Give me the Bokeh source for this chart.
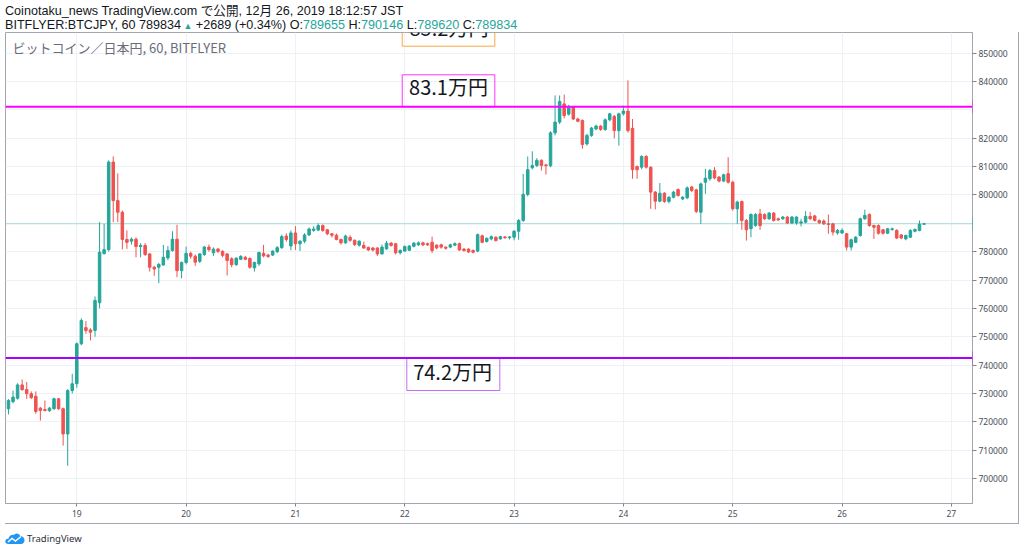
from bokeh.plotting import figure
from bokeh.layouts import column
from bokeh.models import (ColumnDataSource, Range1d, FixedTicker, BasicTickFormatter,
                          Span, Label, BoxAnnotation, Div)
from bokeh.core.properties import value
from bokeh.embed import file_html
from bokeh.resources import INLINE

# ---------------- data: BTC/JPY (bitFlyer) 1h candles, in thousand yen ----------------
first_hour = 9          # hours after 2019-12-18 00:00, i.e. first candle = 18th 09:00
opens_k = [
    724.6, 727.1, 728.3, 733.0, 731.4, 729.9, 729.0, 724.8, 724.3, 723.9,
    724.6, 728.1, 724.6, 715.7, 731.0, 733.4, 747.5, 753.2, 752.4, 752.2,
    762.0, 779.3, 780.7, 811.6, 798.0, 793.9, 784.3, 783.7, 784.4, 781.8,
    782.2, 779.2, 774.5, 774.5, 775.3, 777.8, 780.4, 784.4, 773.3, 776.2,
    779.4, 778.4, 776.6, 779.0, 781.6, 779.6, 780.9, 780.1, 779.2, 777.5,
    775.4, 777.3, 778.0, 777.6, 774.3, 775.7, 779.4, 778.8, 778.8, 780.0,
    781.4, 785.5, 782.0, 786.6, 782.8, 783.7, 785.9, 787.5, 787.6, 789.2,
    787.7, 786.3, 785.8, 784.3, 783.1, 785.0, 784.0, 782.3, 782.2, 781.5,
    781.3, 781.3, 779.2, 781.0, 783.0, 782.8, 779.6, 780.2, 780.5, 781.9,
    782.4, 783.1, 782.8, 783.3, 782.3, 782.4, 781.6, 781.6, 782.3, 782.8,
    780.9, 780.9, 780.4, 780.2, 785.6, 783.6, 784.5, 785.1, 784.5, 785.2,
    784.9, 785.1, 787.2, 791.0, 800.2, 809.6, 810.4, 812.2, 810.6, 810.3,
    821.9, 825.7, 832.1, 828.5, 831.0, 826.8, 826.3, 818.0, 821.0, 823.3,
    824.3, 823.1, 826.5, 827.7, 822.7, 828.6, 829.6, 823.5, 810.0, 809.8,
    813.6, 809.8, 801.0, 797.8, 800.6, 797.7, 799.2, 801.9, 798.6, 799.0,
    802.8, 801.8, 793.9, 804.5, 805.7, 808.6, 806.3, 804.9, 807.5, 804.5,
    795.1, 797.7, 791.0, 788.1, 789.2, 793.3, 793.1, 791.6, 793.6, 791.6,
    791.6, 792.2, 790.1, 790.1, 790.1, 790.4, 792.4, 792.6, 791.0, 790.8,
    789.8, 789.8, 786.6, 786.6, 786.3, 781.6, 783.3, 785.7, 791.6, 793.1,
    789.2, 789.2, 787.7, 786.5, 787.8, 787.5, 785.9, 784.5, 785.1, 787.2,
    787.5, 789.655,
]
highs_k = [
    728.0, 731.0, 733.6, 734.9, 734.0, 730.7, 730.7, 725.2, 727.5, 725.2,
    728.5, 728.4, 725.0, 731.5, 736.9, 748.0, 756.5, 755.5, 753.0, 764.2,
    790.4, 789.8, 812.2, 813.6, 807.6, 794.5, 787.5, 785.0, 785.0, 783.0,
    783.0, 779.5, 775.0, 776.0, 782.4, 782.0, 787.2, 789.5, 776.5, 781.8,
    780.0, 779.0, 779.5, 782.0, 782.5, 781.5, 781.3, 780.5, 779.5, 778.0,
    778.0, 778.8, 778.5, 778.0, 776.5, 780.0, 782.4, 779.2, 780.5, 782.0,
    786.0, 786.5, 787.5, 789.0, 784.0, 786.5, 788.5, 789.0, 790.0, 789.6,
    788.0, 786.6, 786.4, 784.6, 786.0, 785.8, 784.3, 784.0, 783.5, 781.8,
    781.6, 781.6, 782.5, 783.8, 783.4, 783.0, 780.8, 782.2, 782.3, 783.4,
    783.6, 783.5, 783.2, 785.3, 782.6, 782.8, 781.8, 782.8, 783.3, 783.2,
    781.2, 781.2, 780.8, 786.4, 786.0, 785.0, 785.7, 785.4, 785.6, 785.5,
    785.5, 787.6, 791.5, 807.4, 813.6, 815.4, 813.0, 812.6, 811.0, 822.5,
    835.1, 835.1, 835.4, 831.8, 831.4, 827.2, 826.6, 821.6, 824.0, 824.8,
    824.6, 827.0, 829.0, 828.2, 829.0, 831.5, 840.4, 826.8, 810.4, 814.0,
    814.0, 810.0, 801.4, 804.2, 801.0, 799.6, 801.4, 802.3, 799.6, 803.0,
    803.2, 802.2, 804.4, 809.2, 809.2, 809.8, 806.7, 807.5, 813.3, 805.0,
    798.0, 798.0, 791.5, 793.5, 793.6, 795.1, 793.5, 794.0, 794.0, 792.0,
    792.6, 792.6, 792.6, 792.5, 791.6, 794.3, 794.0, 793.0, 791.4, 791.4,
    793.1, 790.2, 788.0, 788.2, 786.6, 784.6, 785.5, 792.0, 794.8, 793.5,
    789.5, 789.6, 788.0, 788.4, 788.5, 787.9, 786.2, 786.0, 787.9, 788.2,
    791.0, 790.146,
]
lows_k = [
    722.6, 726.5, 727.8, 731.0, 728.1, 728.0, 722.8, 720.4, 723.6, 723.5,
    724.2, 724.2, 711.6, 704.5, 730.0, 732.0, 747.0, 751.0, 748.7, 750.0,
    760.0, 779.0, 780.0, 790.4, 790.4, 780.8, 781.0, 782.5, 778.0, 778.0,
    778.5, 773.0, 771.5, 768.9, 775.0, 777.0, 780.0, 771.0, 770.6, 775.5,
    777.5, 775.0, 776.0, 778.5, 780.0, 778.5, 779.5, 778.0, 771.6, 774.5,
    775.0, 777.0, 777.0, 774.0, 773.0, 775.0, 778.0, 777.8, 778.5, 779.5,
    781.0, 783.5, 780.5, 780.6, 780.2, 783.0, 785.5, 787.0, 787.2, 787.0,
    785.8, 785.0, 784.0, 782.5, 782.8, 783.5, 782.0, 781.8, 781.0, 780.2,
    780.0, 778.5, 779.0, 780.6, 781.8, 779.0, 779.0, 780.0, 780.2, 781.5,
    782.0, 782.0, 782.0, 779.5, 780.8, 781.0, 780.7, 781.2, 782.0, 780.3,
    780.0, 779.5, 779.4, 779.8, 783.0, 783.2, 784.0, 783.6, 784.2, 784.5,
    784.3, 784.0, 784.2, 790.5, 799.5, 809.0, 809.8, 808.6, 807.2, 809.8,
    821.0, 825.0, 827.0, 828.0, 826.4, 825.6, 816.3, 817.4, 820.5, 822.8,
    822.6, 822.6, 826.0, 820.0, 817.4, 828.0, 822.0, 805.7, 805.7, 809.0,
    809.3, 795.1, 794.9, 797.4, 797.2, 797.0, 798.8, 799.4, 798.2, 798.5,
    801.0, 793.6, 789.8, 800.4, 805.0, 805.5, 804.4, 804.5, 804.0, 794.5,
    789.8, 787.7, 783.9, 785.1, 788.8, 787.7, 791.2, 791.2, 790.6, 790.8,
    791.2, 789.7, 789.7, 789.5, 788.9, 790.0, 791.2, 790.6, 789.8, 789.4,
    786.3, 785.7, 786.0, 786.2, 780.4, 780.4, 783.0, 785.3, 791.2, 788.8,
    784.5, 786.0, 786.0, 786.2, 787.4, 784.4, 784.4, 784.0, 784.8, 786.8,
    787.2, 789.62,
]
closes_k = [
    727.5, 728.7, 733.0, 731.3, 729.9, 728.5, 723.6, 724.0, 724.0, 724.8,
    728.1, 724.6, 715.7, 731.0, 733.4, 747.5, 755.7, 752.2, 751.6, 762.8,
    779.8, 780.7, 811.6, 798.0, 793.9, 784.3, 783.3, 784.4, 781.8, 782.2,
    779.0, 774.5, 773.9, 775.5, 778.0, 780.4, 784.4, 773.3, 776.2, 779.4,
    778.4, 776.3, 779.2, 781.6, 780.7, 780.9, 780.1, 778.7, 776.9, 775.4,
    777.7, 778.3, 777.3, 774.5, 776.2, 779.7, 778.5, 778.3, 780.2, 781.4,
    785.3, 784.3, 786.6, 782.8, 783.7, 785.9, 788.0, 788.0, 789.2, 787.5,
    786.3, 785.8, 784.3, 783.1, 785.5, 784.0, 782.5, 783.7, 781.3, 780.6,
    780.6, 779.2, 781.6, 783.0, 782.2, 779.6, 780.4, 781.8, 782.0, 783.0,
    783.1, 782.4, 782.4, 780.4, 781.3, 781.6, 781.2, 782.4, 782.8, 780.6,
    780.4, 779.9, 779.8, 786.0, 783.3, 784.7, 785.3, 783.9, 785.3, 784.9,
    785.2, 787.2, 791.0, 800.2, 808.9, 810.4, 812.2, 810.4, 810.3, 821.9,
    825.7, 833.0, 828.0, 831.0, 826.8, 826.0, 817.8, 821.0, 823.6, 824.3,
    823.1, 826.5, 828.6, 822.7, 828.6, 829.6, 822.7, 808.9, 808.9, 813.6,
    809.8, 801.0, 797.8, 800.6, 797.7, 799.2, 801.0, 799.8, 799.2, 802.5,
    801.6, 794.2, 803.9, 805.9, 808.6, 806.0, 804.9, 807.1, 804.5, 795.1,
    797.5, 791.0, 787.7, 793.1, 793.1, 789.2, 791.6, 793.6, 791.0, 791.2,
    792.2, 790.1, 792.2, 792.2, 790.5, 792.4, 791.6, 791.0, 790.2, 789.8,
    789.6, 786.9, 787.5, 787.5, 781.6, 784.2, 785.1, 791.6, 792.8, 789.2,
    788.6, 786.5, 786.5, 788.05, 788.05, 784.8, 784.8, 785.7, 787.5, 787.8,
    789.7, 789.834,
]

day_ticks = [24, 48, 72, 96, 120, 144, 168, 192, 216]
day_labels = ["19", "20", "21", "22", "23", "24", "25", "26", "27"]
price_grid = [700000, 710000, 720000, 730000, 740000, 750000, 760000, 770000,
              780000, 790000, 800000, 810000, 820000, 830000, 840000, 850000]
price_axis_ticks = [t for t in price_grid if t not in (790000, 830000)]

level_high = 831094
level_low = 742490
last_price = 789834
countdown = "47:05"
callout_texts = ["85.2万円", "83.1万円", "74.2万円"]

header_line1 = "Coinotaku_news TradingView.com で公開, 12月 26, 2019 18:12:57 JST"
symbol_text = "BITFLYER:BTCJPY, 60 789834"
change_text = "+2689 (+0.34%)"
ohlc_names = ["O", "H", "L", "C"]
ohlc_values = ["789655", "790146", "789620", "789834"]
pane_legend = "ビットコイン／日本円, 60, BITFLYER"

# ---------------- derived ----------------
hours = [first_hour + i for i in range(len(opens_k))]
opens = [v * 1000 for v in opens_k]
highs = [v * 1000 for v in highs_k]
lows = [v * 1000 for v in lows_k]
closes = [v * 1000 for v in closes_k]
UP, DOWN = "#26a69a", "#ef5350"
colors = [UP if c >= o else DOWN for o, c in zip(opens, closes)]
tops = [max(o, c) for o, c in zip(opens, closes)]
bottoms = [min(o, c) for o, c in zip(opens, closes)]

BORDER = "#a3a6af"
TXT = "#131722"
HFONT = "'Liberation Sans', 'Noto Sans CJK JP', sans-serif"

# ---------------- header (HTML) ----------------
ohlc_html = " ".join(f'{n}:<span style="color:{UP}">{v}</span>' for n, v in zip(ohlc_names, ohlc_values))
header_html = (
    f'<div style="font-family:{HFONT};font-size:12.6px;line-height:14.3px;color:{TXT};'
    f'padding:4px 0 0 5px;white-space:nowrap;">'
    f'{header_line1}<br>'
    f'{symbol_text}<span style="color:{UP};font-size:9px;"> ▲</span> {change_text} {ohlc_html}'
    f'</div>'
)
header = Div(text=header_html, width=1024, height=32, margin=(0, 0, 0, 0))

# ---------------- chart ----------------
W, H = 1014, 492                 # canvas placed at page (5, 32)
FRAME_W, FRAME_H = 967, 471
y_start, y_end = 691170, 857300
x_start, x_end = 8.347, 220.64
ypp = (y_end - y_start) / FRAME_H

p = figure(width=W, height=H, title=None,
           x_range=Range1d(x_start, x_end), y_range=Range1d(y_start, y_end),
           output_backend="svg", toolbar_location=None, y_axis_location="right",
           min_border_left=0, min_border_right=W - FRAME_W,
           min_border_top=0, min_border_bottom=H - FRAME_H,
           margin=(0, 0, 0, 5))
p.styles = {"border-right": f"1px solid {BORDER}", "border-bottom": f"1px solid {BORDER}"}
p.background_fill_color = "white"
p.border_fill_color = "white"
p.outline_line_color = BORDER

yax = p.yaxis[0]
yax.ticker = FixedTicker(ticks=price_axis_ticks)
yax.formatter = BasicTickFormatter(use_scientific=False)
yax.major_label_text_font = "Noto Sans"
yax.major_label_text_font_size = "8.5px"
yax.major_label_text_color = "#4a4e59"
yax.major_tick_out = 4
yax.major_tick_in = 0
yax.minor_tick_out = 0
yax.minor_tick_in = 0
yax.major_tick_line_color = "#7f838c"
yax.axis_line_color = BORDER
yax.major_label_standoff = 2

xax = p.xaxis[0]
xax.ticker = FixedTicker(ticks=day_ticks)
xax.major_label_overrides = {t: s for t, s in zip(day_ticks, day_labels)}
xax.major_label_text_font = "Noto Sans"
xax.major_label_text_font_size = "8.5px"
xax.major_label_text_color = "#4a4e59"
xax.major_tick_out = 3
xax.major_tick_in = 0
xax.minor_tick_out = 0
xax.minor_tick_in = 0
xax.major_tick_line_color = "#7f838c"
xax.axis_line_color = BORDER
xax.major_label_standoff = 3

p.xgrid.ticker = FixedTicker(ticks=day_ticks)
p.ygrid.ticker = FixedTicker(ticks=price_grid)
p.xgrid.grid_line_color = "#eef1f6"
p.ygrid.grid_line_color = "#eef1f6"

src = ColumnDataSource(dict(x=hours, high=highs, low=lows, top=tops, bottom=bottoms, color=colors))
p.segment(x0="x", y0="low", x1="x", y1="high", line_color="color", line_width=1, source=src)
p.vbar(x="x", width=0.55, top="top", bottom="bottom", fill_color="color",
       line_color="color", line_width=1, source=src)

p.add_layout(Span(location=last_price, dimension="width", line_color=UP, line_alpha=0.35, line_width=1))
p.add_layout(Span(location=level_high, dimension="width", line_color="#ff00ff", line_width=2))
p.add_layout(Span(location=level_low, dimension="width", line_color="#aa00ff", line_width=2))

cb_left = [95.44, 95.44, 96.45]
cb_right = [115.77, 115.77, 116.87]
cb_bottom = [852470, level_high, 731020]
cb_top = [863050, 842380, level_low]
cb_color = ["#f7a844", "#ff33ff", "#c46cf5"]
p.quad(left=cb_left, right=cb_right, bottom=cb_bottom, top=cb_top,
       fill_alpha=0, line_color=cb_color, line_width=1)
p.text(x=[105.7, 105.6, 106.5], y=[859070, 838260, 737620], text=callout_texts,
       text_font=value("Noto Sans CJK JP"), text_font_size="20px", text_color=TXT,
       text_align="center", text_baseline="middle")

p.add_layout(Label(x=7, y=15, x_units="canvas", y_units="canvas", text=pane_legend,
                   text_color="#6a6d78", text_font="Noto Sans CJK JP", text_font_size="13px",
                   text_align="left", text_baseline="middle"))

# top edge of the price-scale column and the divider in the time-scale row
p.add_layout(BoxAnnotation(left=FRAME_W, right=W, top=0.5, bottom=0.5,
                           left_units="canvas", right_units="canvas", top_units="canvas", bottom_units="canvas",
                           fill_alpha=0, line_color=BORDER, line_width=1))
p.add_layout(BoxAnnotation(left=FRAME_W + 0.5, right=FRAME_W + 0.5, top=FRAME_H, bottom=H,
                           left_units="canvas", right_units="canvas", top_units="canvas", bottom_units="canvas",
                           fill_alpha=0, line_color=BORDER, line_width=1))

def price_tag(price, text, color, left, right):
    p.add_layout(BoxAnnotation(left=left, right=right, left_units="canvas", right_units="canvas",
                               bottom=price - 6.5 * ypp, top=price + 6.5 * ypp,
                               fill_color=color, fill_alpha=1, line_color=color, line_width=1))
    p.add_layout(Label(x=(left + right) / 2, y=price, x_units="canvas", text=text,
                       text_align="center", text_baseline="middle", text_color="white",
                       text_font="Noto Sans", text_font_size="8.5px"))

price_tag(level_high, str(level_high), "#ff00ff", 967, 1008)
price_tag(last_price, str(last_price), UP, 967, 1008)
price_tag(784890, countdown, UP, 976, 1008)
price_tag(level_low, str(level_low), "#aa00ff", 967, 1008)

# ---------------- footer (logo) ----------------
logo_svg = (
    '<svg width="20" height="13" viewBox="0 0 20 13" style="display:block">'
    '<path d="M3.5 12 C1.4 12 0 10.6 0.3 8.9 C0.6 7.3 2 6.5 3.4 6.8 C3.9 3.9 6.6 2.2 9.2 2.8 '
    'C10.9 0.9 14.3 1.2 15.3 4.3 C17.8 4.2 19.8 6.3 19.5 8.8 C19.3 10.6 17.9 12 16.2 12 Z" fill="#2196f3"/>'
    '<polyline points="3,10 7,6.5 10.5,9 16,4.5" fill="none" stroke="white" stroke-width="1.4"/>'
    '</svg>'
)
footer_html = (
    f'<div style="display:flex;align-items:center;padding:8px 0 0 5px;'
    f"font-family:'Noto Sans', sans-serif;"
    f'font-size:9.5px;color:#2a2e39;">{logo_svg}<span style="margin-left:2px">TradingView</span></div>'
)
footer = Div(text=footer_html, width=1024, height=26, margin=(0, 0, 0, 0))

layout = column(header, p, footer, spacing=0)
open("out.html", "w").write(file_html(layout, INLINE))
